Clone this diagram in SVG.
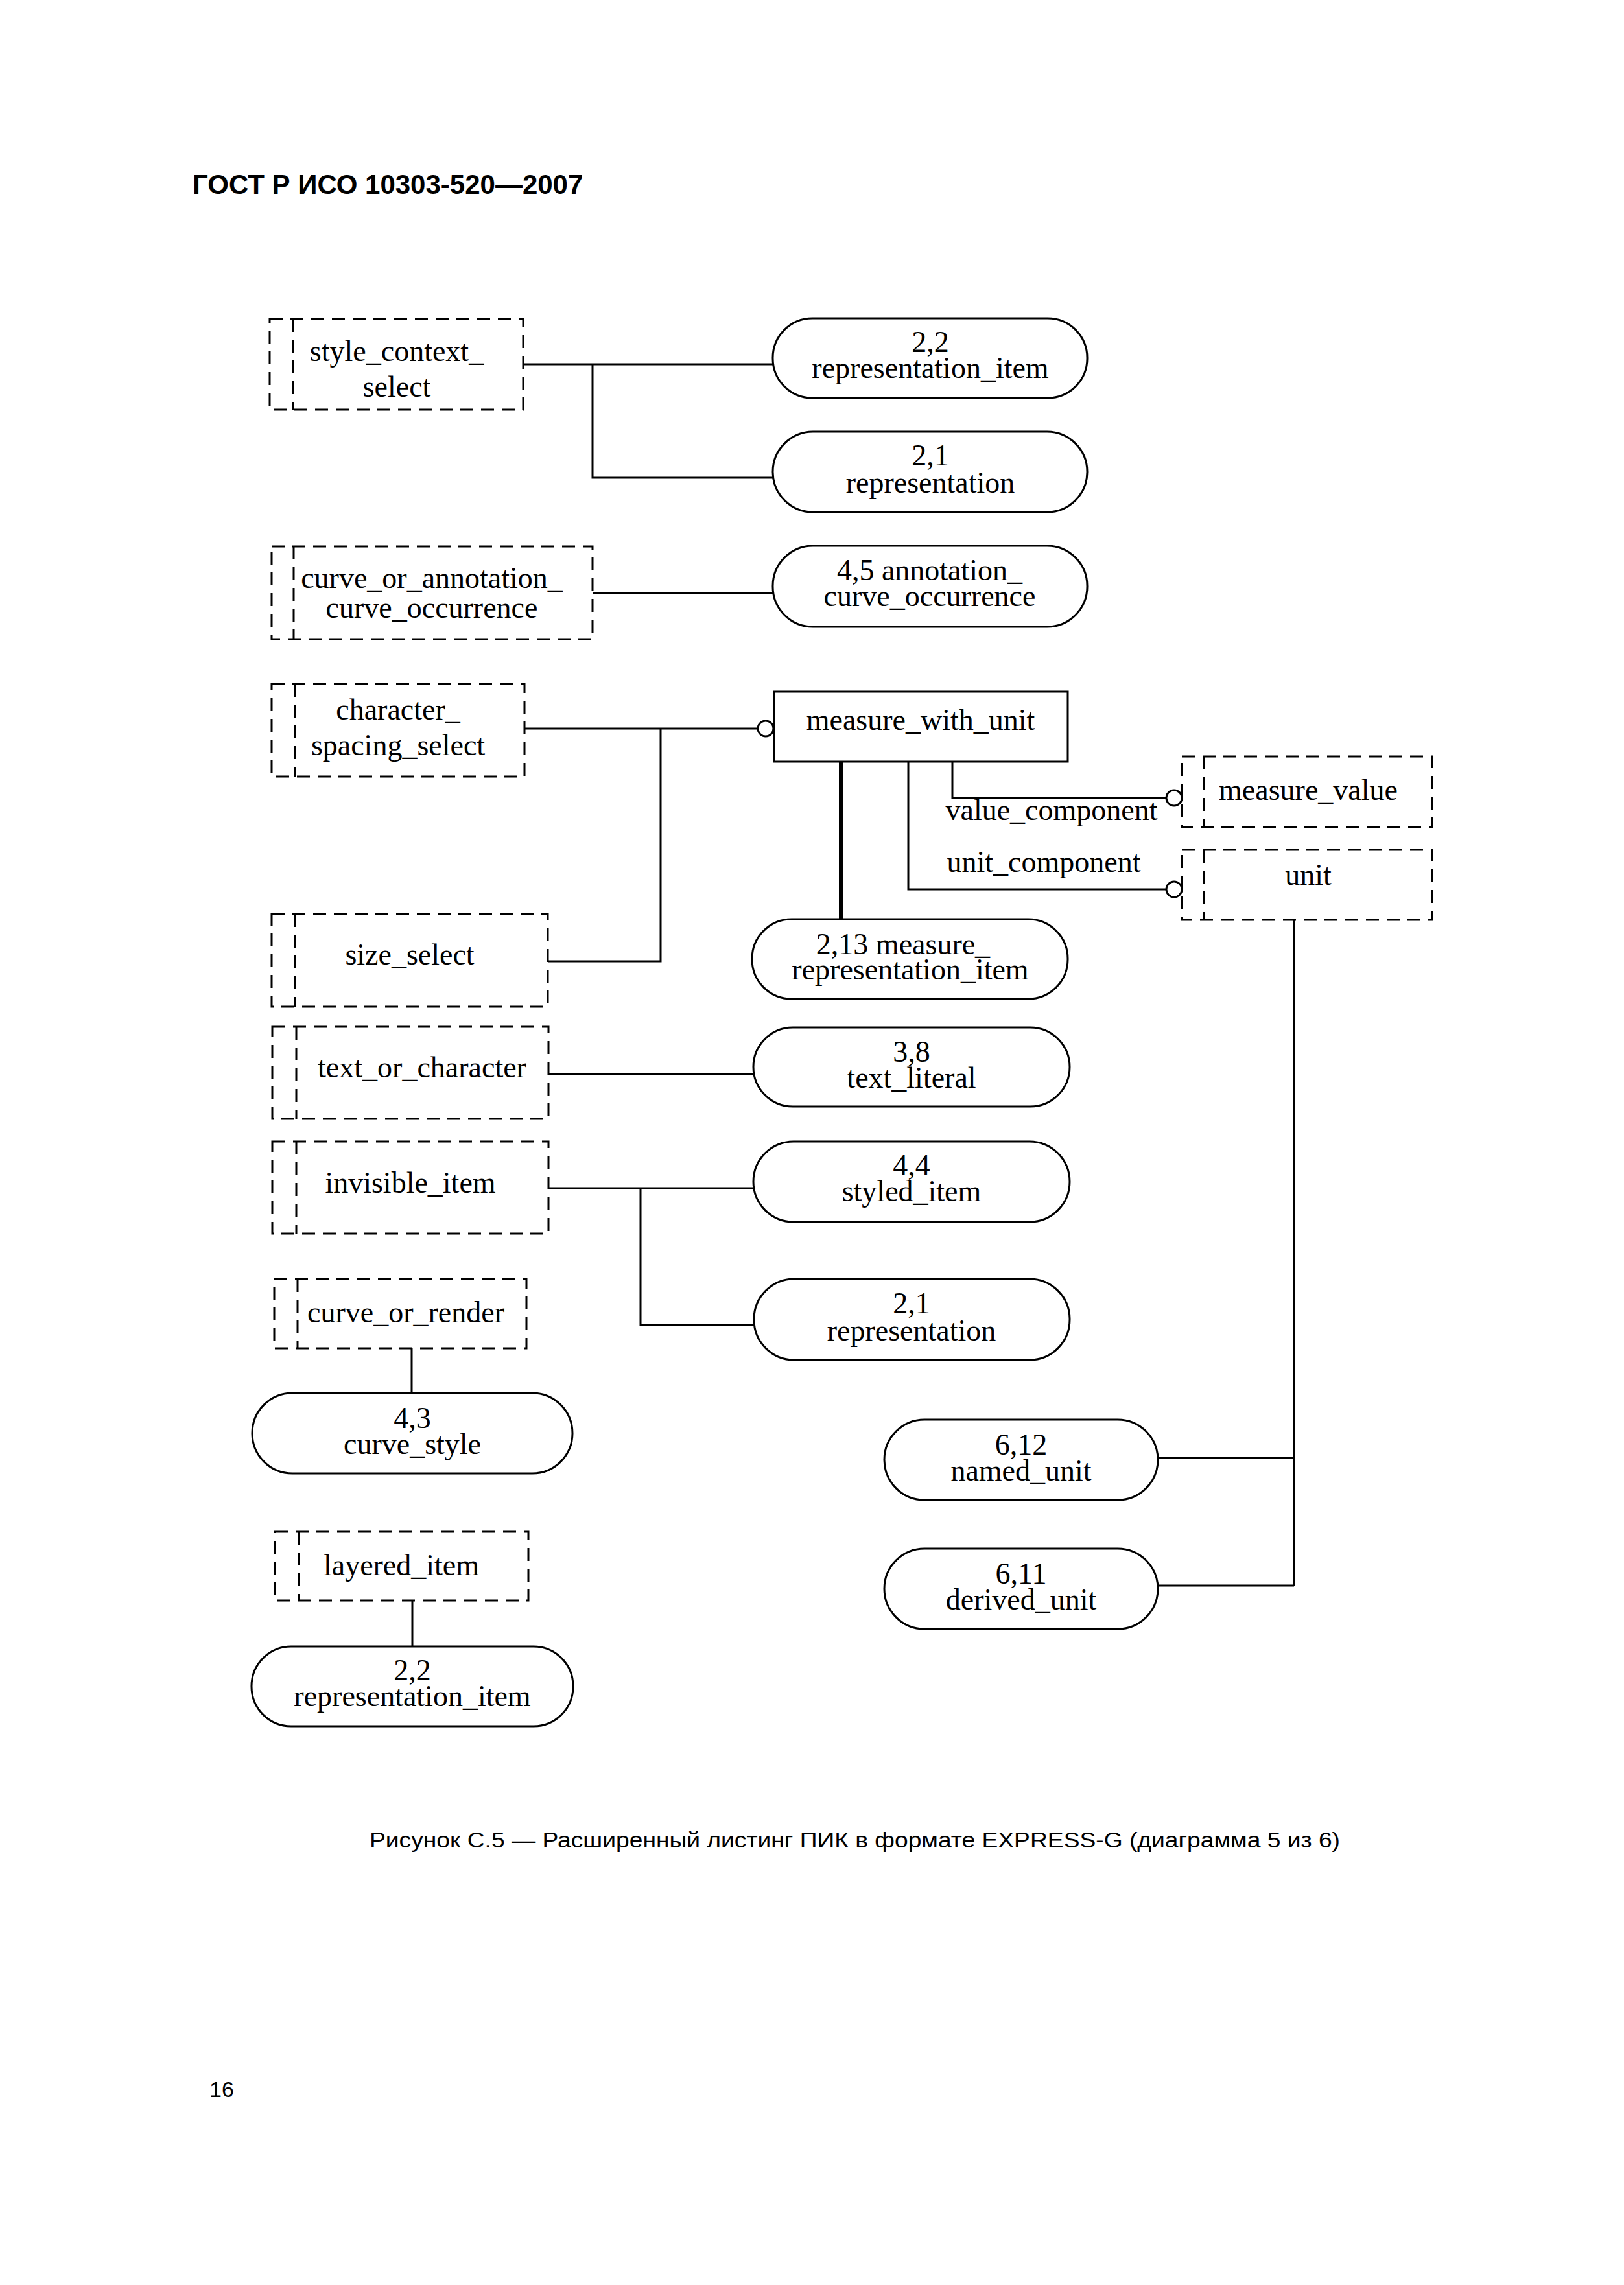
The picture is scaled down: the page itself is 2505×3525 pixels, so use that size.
<svg xmlns="http://www.w3.org/2000/svg" width="2505" height="3525" viewBox="0 0 2505 3525">
<style>
.sel{fill:none;stroke:#000;stroke-width:3;stroke-dasharray:20 12}
.ent{fill:#fff;stroke:#000;stroke-width:3}
.t{font-family:"Liberation Serif","Times New Roman",serif;font-size:46px;text-anchor:middle;fill:#000}
.c{fill:none;stroke:#000;stroke-width:3}
.thick{stroke-width:6}
.circ{fill:#fff;stroke:#000;stroke-width:3}
.sans{font-family:"Liberation Sans",Arial,sans-serif;fill:#000}
</style>
<rect x="0" y="0" width="2505" height="3525" fill="#fff"/>
<text class="sans" x="297" y="299" font-size="42" font-weight="bold">ГОСТ Р ИСО 10303-520—2007</text>

<g id="connectors">
<path class="c" d="M807 562H1192M914 562V737H1192"/>
<path class="c" d="M914 915H1192"/>
<path class="c" d="M809 1124H1169M1019 1124V1483H845"/>
<path class="c" d="M1469 1175V1231H1799"/>
<path class="c" d="M1401 1175V1372H1799"/>
<path class="c thick" d="M1297 1175V1418"/>
<path class="c" d="M1996 1419V2446M1786 2249H1996M1786 2446H1996"/>
<path class="c" d="M846 1657H1162"/>
<path class="c" d="M846 1833H1162M988 1833V2044H1163"/>
<path class="c" d="M635 2080V2149"/>
<path class="c" d="M636 2469V2540"/>
<circle class="circ" cx="1181" cy="1124" r="12"/>
<circle class="circ" cx="1811" cy="1231" r="12"/>
<circle class="circ" cx="1811" cy="1372" r="12"/>
<text class="t" x="1622" y="1265">value_component</text>
<text class="t" x="1610" y="1345">unit_component</text>
</g>

<g id="style_context_select">
<rect class="sel" x="416" y="492" width="391" height="140"/>
<path class="sel" d="M452 492V632"/>
<text class="t" x="612" y="557">style_context_</text>
<text class="t" x="612" y="612">select</text>
</g>
<g id="representation_item_1">
<rect class="ent" x="1192" y="491" width="485" height="123" rx="61"/>
<text class="t" x="1435" y="543">2,2</text>
<text class="t" x="1435" y="583">representation_item</text>
</g>
<g id="representation_1">
<rect class="ent" x="1192" y="666" width="485" height="124" rx="62"/>
<text class="t" x="1435" y="718">2,1</text>
<text class="t" x="1435" y="760">representation</text>
</g>

<g id="curve_or_annotation_curve_occurrence">
<rect class="sel" x="419" y="843" width="495" height="143"/>
<path class="sel" d="M453 843V986"/>
<text class="t" x="666" y="907">curve_or_annotation_</text>
<text class="t" x="666" y="953">curve_occurrence</text>
</g>
<g id="annotation_curve_occurrence">
<rect class="ent" x="1192" y="842" width="485" height="125" rx="62"/>
<text class="t" x="1434" y="895">4,5 annotation_</text>
<text class="t" x="1434" y="935">curve_occurrence</text>
</g>

<g id="character_spacing_select">
<rect class="sel" x="419" y="1055" width="390" height="143"/>
<path class="sel" d="M455 1055V1198"/>
<text class="t" x="614" y="1110">character_</text>
<text class="t" x="614" y="1165">spacing_select</text>
</g>
<g id="measure_with_unit">
<rect class="ent" x="1194" y="1067" width="453" height="108"/>
<text class="t" x="1420" y="1126">measure_with_unit</text>
</g>
<g id="size_select">
<rect class="sel" x="419" y="1410" width="426" height="143"/>
<path class="sel" d="M455 1410V1553"/>
<text class="t" x="632" y="1488">size_select</text>
</g>
<g id="measure_value">
<rect class="sel" x="1823" y="1167" width="386" height="109"/>
<path class="sel" d="M1857 1167V1276"/>
<text class="t" x="2018" y="1234">measure_value</text>
</g>
<g id="unit">
<rect class="sel" x="1823" y="1311" width="386" height="108"/>
<path class="sel" d="M1857 1311V1419"/>
<text class="t" x="2018" y="1365">unit</text>
</g>
<g id="measure_representation_item">
<rect class="ent" x="1160" y="1418" width="487" height="123" rx="61"/>
<text class="t" x="1393" y="1472">2,13 measure_</text>
<text class="t" x="1404" y="1511">representation_item</text>
</g>

<g id="text_or_character">
<rect class="sel" x="420" y="1584" width="426" height="142"/>
<path class="sel" d="M457 1584V1726"/>
<text class="t" x="651" y="1662">text_or_character</text>
</g>
<g id="text_literal">
<rect class="ent" x="1162" y="1585" width="488" height="122" rx="61"/>
<text class="t" x="1406" y="1638">3,8</text>
<text class="t" x="1406" y="1678">text_literal</text>
</g>

<g id="invisible_item">
<rect class="sel" x="420" y="1761" width="426" height="142"/>
<path class="sel" d="M457 1761V1903"/>
<text class="t" x="633" y="1840">invisible_item</text>
</g>
<g id="styled_item">
<rect class="ent" x="1162" y="1761" width="488" height="124" rx="62"/>
<text class="t" x="1406" y="1813">4,4</text>
<text class="t" x="1406" y="1853">styled_item</text>
</g>
<g id="representation_2">
<rect class="ent" x="1163" y="1973" width="487" height="125" rx="62"/>
<text class="t" x="1406" y="2026">2,1</text>
<text class="t" x="1406" y="2068">representation</text>
</g>

<g id="curve_or_render">
<rect class="sel" x="423" y="1973" width="389" height="107"/>
<path class="sel" d="M459 1973V2080"/>
<text class="t" x="626" y="2040">curve_or_render</text>
</g>
<g id="curve_style">
<rect class="ent" x="389" y="2149" width="494" height="124" rx="62"/>
<text class="t" x="636" y="2203">4,3</text>
<text class="t" x="636" y="2243">curve_style</text>
</g>

<g id="named_unit">
<rect class="ent" x="1364" y="2190" width="422" height="124" rx="62"/>
<text class="t" x="1575" y="2244">6,12</text>
<text class="t" x="1575" y="2284">named_unit</text>
</g>
<g id="derived_unit">
<rect class="ent" x="1364" y="2389" width="422" height="124" rx="62"/>
<text class="t" x="1575" y="2443">6,11</text>
<text class="t" x="1575" y="2483">derived_unit</text>
</g>

<g id="layered_item">
<rect class="sel" x="424" y="2363" width="391" height="106"/>
<path class="sel" d="M461 2363V2469"/>
<text class="t" x="619" y="2430">layered_item</text>
</g>
<g id="representation_item_2">
<rect class="ent" x="388" y="2540" width="496" height="123" rx="61"/>
<text class="t" x="636" y="2592">2,2</text>
<text class="t" x="636" y="2632">representation_item</text>
</g>

<text class="sans" x="570" y="2850" font-size="33" textLength="1497" lengthAdjust="spacingAndGlyphs">Рисунок С.5 — Расширенный листинг ПИК в формате EXPRESS-G (диаграмма 5 из 6)</text>
<text class="sans" x="323" y="3235" font-size="34">16</text>
</svg>
